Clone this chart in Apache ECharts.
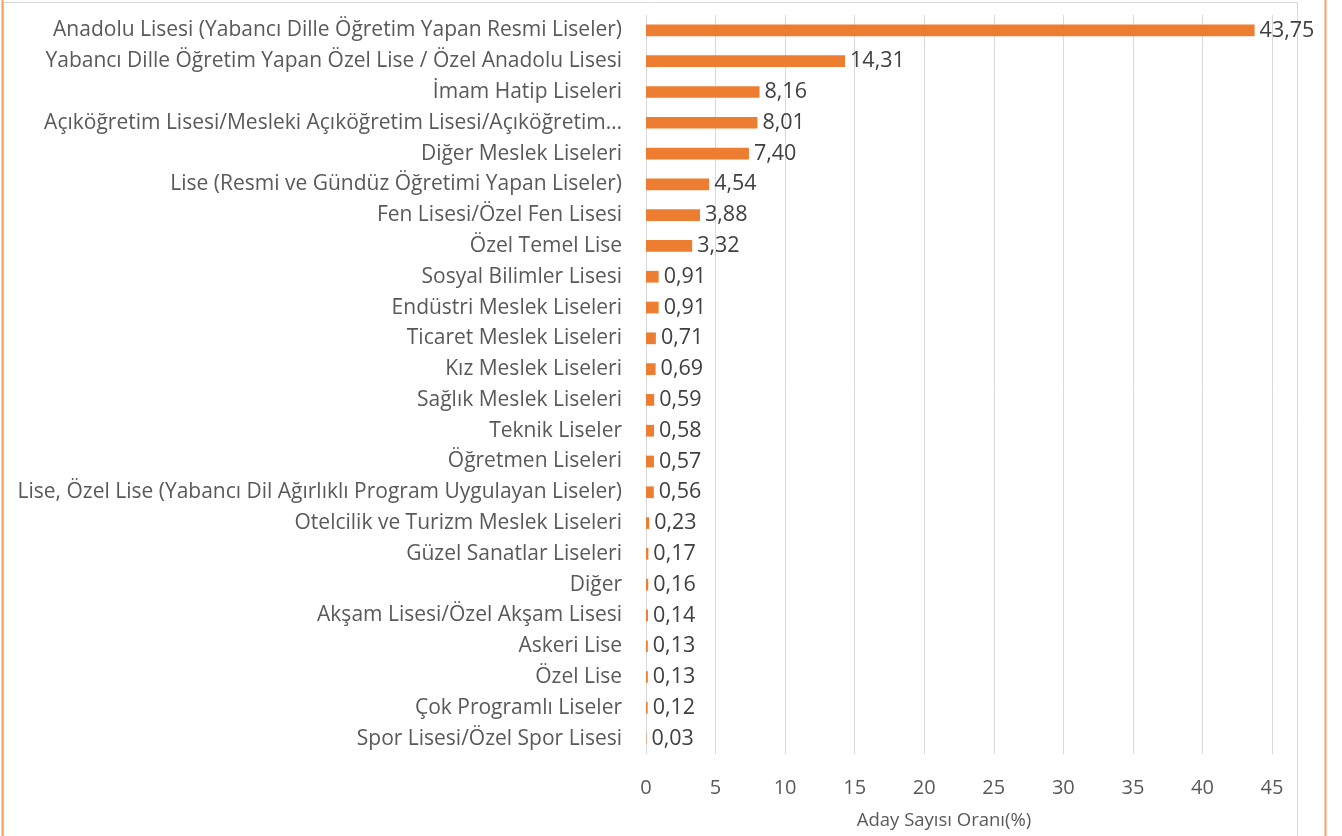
<!DOCTYPE html>
<html><head><meta charset="utf-8">
<script src="https://cdn.jsdelivr.net/npm/echarts@6/dist/echarts.min.js"></script>
<style>html,body{margin:0;padding:0;background:#fff}#c{width:1342px;height:836px}</style>
</head><body><div id="c"></div>
<script>
const categories = [
  "Anadolu Lisesi (Yabancı Dille Öğretim Yapan Resmi Liseler)",
  "Yabancı Dille Öğretim Yapan Özel Lise / Özel Anadolu Lisesi",
  "İmam Hatip Liseleri",
  "Açıköğretim Lisesi/Mesleki Açıköğretim Lisesi/Açıköğretim…",
  "Diğer Meslek Liseleri",
  "Lise (Resmi ve Gündüz Öğretimi Yapan Liseler)",
  "Fen Lisesi/Özel Fen Lisesi",
  "Özel Temel Lise",
  "Sosyal Bilimler Lisesi",
  "Endüstri Meslek Liseleri",
  "Ticaret Meslek Liseleri",
  "Kız Meslek Liseleri",
  "Sağlık Meslek Liseleri",
  "Teknik Liseler",
  "Öğretmen Liseleri",
  "Lise, Özel Lise (Yabancı Dil Ağırlıklı Program Uygulayan Liseler)",
  "Otelcilik ve Turizm Meslek Liseleri",
  "Güzel Sanatlar Liseleri",
  "Diğer",
  "Akşam Lisesi/Özel Akşam Lisesi",
  "Askeri Lise",
  "Özel Lise",
  "Çok Programlı Liseler",
  "Spor Lisesi/Özel Spor Lisesi"
];
const values = [43.75, 14.31, 8.16, 8.01, 7.40, 4.54, 3.88, 3.32, 0.91, 0.91, 0.71, 0.69, 0.59, 0.58, 0.57, 0.56, 0.23, 0.17, 0.16, 0.14, 0.13, 0.13, 0.12, 0.03];
const xTicks = [0, 5, 10, 15, 20, 25, 30, 35, 40, 45];
const axisTitle = "Aday Sayısı Oranı(%)";

const FONT = "Open Sans";
const chart = echarts.init(document.getElementById('c'), null, {renderer: 'canvas'});
chart.setOption({
  backgroundColor: '#fff',
  animation: false,
  graphic: [
    {type: 'rect', shape: {x: 3.5, y: 2.5, width: 1294, height: 840}, style: {fill: 'none', stroke: '#d9d9d9', lineWidth: 1}},
    {type: 'line', shape: {x1: 2.5, y1: 0, x2: 2.5, y2: 836}, style: {stroke: '#F4A261', lineWidth: 2}},
    {type: 'line', shape: {x1: 1325.5, y1: 0, x2: 1325.5, y2: 836}, style: {stroke: '#F4A261', lineWidth: 2}}
  ],
  grid: {left: 646, right: 70, top: 15, bottom: 82, containLabel: false},
  xAxis: {
    type: 'value', min: xTicks[0], max: xTicks[xTicks.length - 1], interval: 5,
    axisLine: {show: false}, axisTick: {show: false},
    splitLine: {show: true, lineStyle: {color: '#d9d9d9', width: 1}},
    axisLabel: {color: '#595959', fontFamily: FONT, fontSize: 20, margin: 24},
    name: axisTitle, nameLocation: 'middle', nameGap: 57,
    nameTextStyle: {color: '#595959', fontFamily: FONT, fontSize: 18.5, padding: [0, 30, 0, 0]}
  },
  yAxis: {
    type: 'category', data: categories, inverse: true,
    axisLine: {show: false}, axisTick: {show: false},
    axisLabel: {color: '#595959', fontFamily: FONT, fontSize: 21, margin: 24, interval: 0, padding: [5, 0, 0, 0]}
  },
  series: [{
    type: 'bar', data: values, barWidth: '38%',
    itemStyle: {color: '#ED7D31'},
    label: {
      show: true, position: 'right', distance: 5, color: '#404040', fontFamily: FONT, fontSize: 21.5,
      padding: [5, 0, 0, 0],
      formatter: p => p.value.toFixed(2).replace('.', ',')
    }
  }]
});
</script></body></html>
